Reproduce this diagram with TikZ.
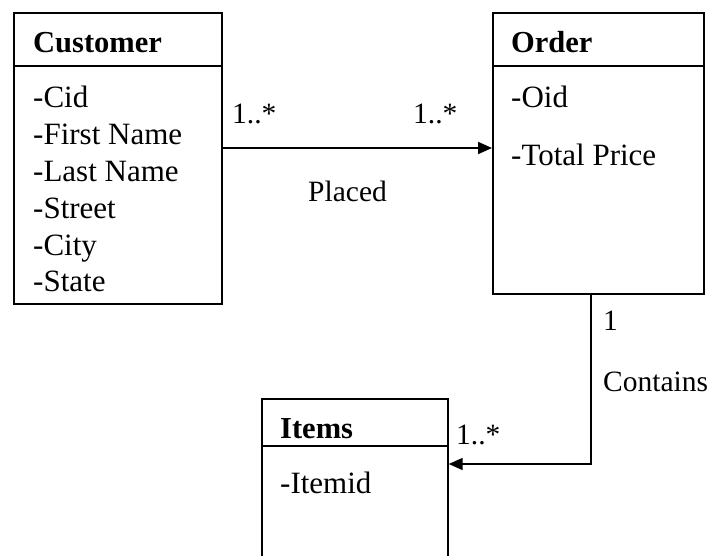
\documentclass[tikz,border=0pt]{standalone}
\usepackage{fontspec}
\setmainfont{Liberation Serif}
\usetikzlibrary{arrows.meta}
\tikzset{
  classbox/.style={draw, line width=1.7pt, rectangle, anchor=north west, inner sep=0pt},
  divider/.style={line width=1.7pt},
  title/.style={anchor=base west, inner sep=0pt, font=\fontsize{30.5}{36}\selectfont\bfseries},
  attr/.style={anchor=base west, inner sep=0pt, font=\fontsize{31}{36}\selectfont},
  mult/.style={anchor=base west, inner sep=0pt, font=\fontsize{29.5}{35}\selectfont},
  assoc/.style={line width=1.7pt, -{Triangle[length=14pt,width=12pt]}}
}
\begin{document}
\begin{tikzpicture}[x=1pt, y=-1pt]
  \useasboundingbox (0,0) rectangle (715,555);
  \clip (0,0) rectangle (715,555);
  \fill[white] (0,0) rectangle (715,555);

  % Customer class
  \node[classbox, minimum width=208pt, minimum height=291pt] (cust) at (13,12) {};
  \draw[divider] (13,66) -- (221,66);
  \node[title] (custT) at (33,52) {Customer};
  \node[attr] (c1) at (33,107) {-Cid};
  \node[attr] (c2) at (33,144) {-First Name};
  \node[attr] (c3) at (33,181) {-Last Name};
  \node[attr] (c4) at (33,218) {-Street};
  \node[attr] (c5) at (33,255) {-City};
  \node[attr] (c6) at (33,291) {-State};

  % Order class
  \node[classbox, minimum width=211pt, minimum height=281pt] (ord) at (492,12) {};
  \draw[divider] (492,66) -- (703,66);
  \node[title] (ordT) at (511,52) {Order};
  \node[attr] (o1) at (511,107) {-Oid};
  \node[attr] (o2) at (511,165) {-Total Price};

  % Items class (runs past the lower edge)
  \node[classbox, minimum width=186pt, minimum height=200pt] (item) at (261,398) {};
  \draw[divider] (261,446) -- (447,446);
  \node[title] (itemT) at (280,438) {Items};
  \node[attr] (i1) at (280,493) {-Itemid};

  % Placed association
  \coordinate (pA) at (cust.east |- 0,148);
  \coordinate (pB) at (ord.west |- 0,148);
  \draw[assoc] (pA) -- (pB);
  \node[mult] (m1) at (232,123) {1..*};
  \node[mult] (m2) at (413,123) {1..*};
  \node[mult] (placed) at (308,201) {Placed};

  % Contains association
  \coordinate (cA) at (591,0 |- ord.south);
  \coordinate (cB) at (item.east |- 0,464);
  \draw[assoc] (cA) |- (cB);
  \node[mult] (m3) at (603,330) {1};
  \node[mult] (contains) at (603,391) {Contains};
  \node[mult] (m4) at (456,444) {1..*};
\end{tikzpicture}
\end{document}
